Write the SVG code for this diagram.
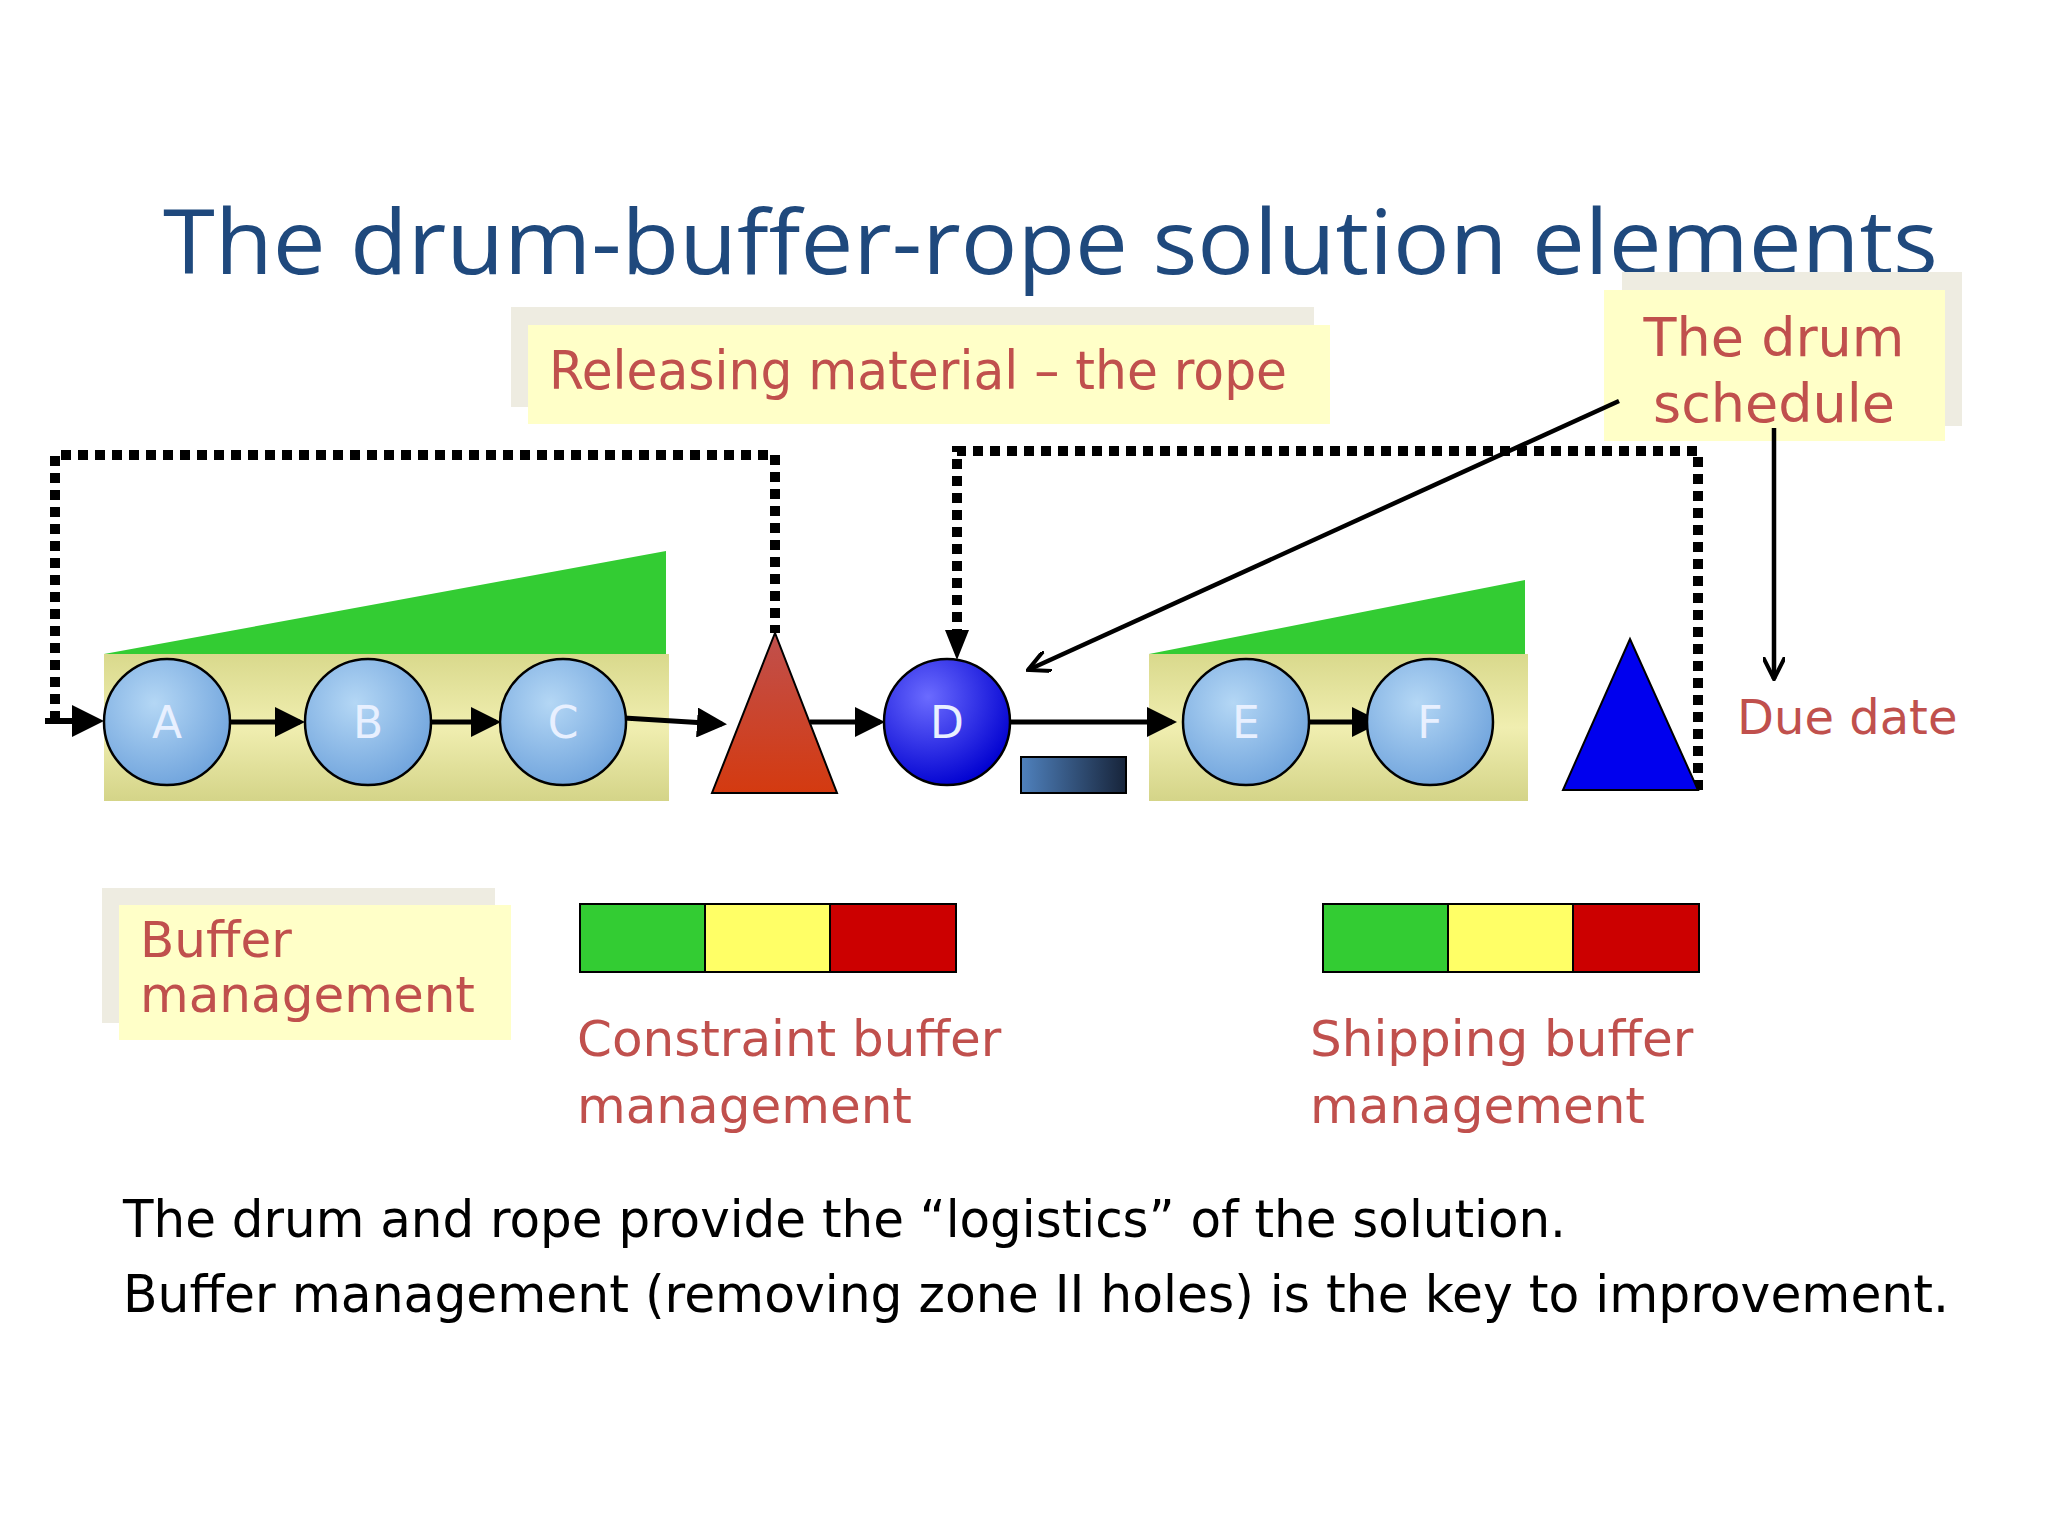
<svg xmlns="http://www.w3.org/2000/svg" width="2048" height="1536" viewBox="0 0 2048 1536">
<defs>
<style>
.lbl{font-family:"DejaVu Sans",Verdana,sans-serif;fill:#c0504d}
.body{font-family:"DejaVu Sans",Verdana,sans-serif;fill:#000}
.node{fill:url(#cg);stroke:#000;stroke-width:2.5}
.nt{font-family:"DejaVu Sans",sans-serif;font-size:44px;fill:#e8f0ff;text-anchor:middle}
.rope{fill:none;stroke:#000;stroke-width:10;stroke-dasharray:10 7}
.ar{stroke:#000;stroke-width:5;fill:none;marker-end:url(#ah)}
.thin{stroke:#000;stroke-width:4.5;fill:none;marker-end:url(#ah2)}
</style>
<radialGradient id="cg" cx="0.4" cy="0.35" r="0.7"><stop offset="0" stop-color="#b4d7f5"/><stop offset="1" stop-color="#6fa3dc"/></radialGradient>
<radialGradient id="dg" cx="0.35" cy="0.3" r="0.75"><stop offset="0" stop-color="#6b6bff"/><stop offset="1" stop-color="#0000d0"/></radialGradient>
<linearGradient id="kg" x1="0" y1="0" x2="0" y2="1"><stop offset="0" stop-color="#d9d98c"/><stop offset="0.5" stop-color="#f0eeb0"/><stop offset="1" stop-color="#d4d488"/></linearGradient>
<linearGradient id="tg" x1="0" y1="0" x2="0" y2="1"><stop offset="0" stop-color="#c0504d"/><stop offset="1" stop-color="#d43a10"/></linearGradient>
<linearGradient id="bg" x1="0" y1="0" x2="1" y2="0"><stop offset="0" stop-color="#4f81bd"/><stop offset="1" stop-color="#17243a"/></linearGradient>
<marker id="ah" markerWidth="6" markerHeight="6" refX="5" refY="3" orient="auto"><path d="M0,0 L6,3 L0,6 z" fill="#000"/></marker>
<marker id="ah2" markerWidth="24" markerHeight="22" refX="22" refY="11" orient="auto" markerUnits="userSpaceOnUse"><path d="M0,0 L22,11 L0,22" fill="none" stroke="#000" stroke-width="4"/></marker>
</defs>
<rect width="2048" height="1536" fill="#fff"/>
<text x="163" y="274" font-family="Open Sans,Liberation Sans,sans-serif" font-size="90" fill="#1f497d" textLength="1775" lengthAdjust="spacingAndGlyphs">The drum-buffer-rope solution elements</text>
<g id="rope-label"><rect x="511" y="307" width="803" height="100" fill="#eeece1"/><rect x="528" y="325" width="802" height="99" fill="#ffffc8"/><text class="lbl" x="549" y="389" font-size="54" textLength="738" lengthAdjust="spacingAndGlyphs">Releasing material – the rope</text></g>
<g id="drum-label"><rect x="1622" y="272" width="340" height="154" fill="#eeece1"/><rect x="1604" y="290" width="341" height="151" fill="#ffffc8"/><text class="lbl" x="1774" y="356" font-size="54" text-anchor="middle">The drum</text><text class="lbl" x="1774" y="422" font-size="54" text-anchor="middle">schedule</text></g>
<g id="buffer1"><rect x="104" y="654" width="565" height="147" fill="url(#kg)"/><polygon points="104,654 666,551 666,654" fill="#33cc33"/></g>
<g id="buffer2"><rect x="1149" y="654" width="379" height="147" fill="url(#kg)"/><polygon points="1149,654 1525,580 1525,654" fill="#33cc33"/></g>
<g id="connectors">
<polyline class="rope" points="55,721 55,455 775,455 775,633"/>
<polyline class="rope" points="1698,790 1698,451 957,451 957,640"/>
<path d="M945,630 L969,630 L957,660 z" fill="#000"/>
<line x1="45" y1="721" x2="80" y2="721" stroke="#000" stroke-width="6"/>
<path d="M72,705 L104,721 L72,737 z" fill="#000"/>
<line class="ar" x1="230" y1="722" x2="300" y2="722"/>
<line class="ar" x1="431" y1="722" x2="496" y2="722"/>
<line class="ar" x1="624" y1="718" x2="722" y2="724"/>
<line class="ar" x1="810" y1="722" x2="880" y2="722"/>
<line class="ar" x1="1010" y1="722" x2="1172" y2="722"/>
<line class="ar" x1="1310" y1="722" x2="1377" y2="722"/>
<line class="thin" x1="1619" y1="401" x2="1028" y2="670"/>
<line class="thin" x1="1774" y1="428" x2="1774" y2="679"/>
</g>
<g id="A"><circle class="node" cx="167" cy="722" r="63"/><text class="nt" x="167" y="738">A</text></g>
<g id="B"><circle class="node" cx="368" cy="722" r="63"/><text class="nt" x="368" y="738">B</text></g>
<g id="C"><circle class="node" cx="563" cy="722" r="63"/><text class="nt" x="563" y="738">C</text></g>
<g id="tri-red"><polygon points="775,633 712,793 837,793" fill="url(#tg)" stroke="#000" stroke-width="2"/></g>
<g id="D"><circle cx="947" cy="722" r="63" fill="url(#dg)" stroke="#000" stroke-width="2.5"/><text class="nt" x="947" y="738">D</text></g>
<rect id="drum-bar" x="1021" y="757" width="105" height="36" fill="url(#bg)" stroke="#000" stroke-width="2"/>
<g id="E"><circle class="node" cx="1246" cy="722" r="63"/><text class="nt" x="1246" y="738">E</text></g>
<g id="F"><circle class="node" cx="1430" cy="722" r="63"/><text class="nt" x="1430" y="738">F</text></g>
<g id="tri-blue"><polygon points="1630,639 1563,790 1698,790" fill="#0000ee" stroke="#000" stroke-width="2"/></g>
<text class="lbl" x="1737" y="734" font-size="48">Due date</text>
<g id="bm-label"><rect x="102" y="888" width="393" height="135" fill="#eeece1"/><rect x="119" y="905" width="392" height="135" fill="#ffffc8"/><text class="lbl" x="140" y="957" font-size="50">Buffer</text><text class="lbl" x="140" y="1012" font-size="50">management</text></g>
<g id="bar1" stroke="#000" stroke-width="2"><rect x="580" y="904" width="125" height="68" fill="#33cc33"/><rect x="705" y="904" width="125" height="68" fill="#ffff66"/><rect x="830" y="904" width="126" height="68" fill="#cc0000"/></g>
<g id="bar2" stroke="#000" stroke-width="2"><rect x="1323" y="904" width="125" height="68" fill="#33cc33"/><rect x="1448" y="904" width="125" height="68" fill="#ffff66"/><rect x="1573" y="904" width="126" height="68" fill="#cc0000"/></g>
<text class="lbl" x="577" y="1056" font-size="50">Constraint buffer</text><text class="lbl" x="577" y="1123" font-size="50">management</text>
<text class="lbl" x="1310" y="1056" font-size="50">Shipping buffer</text><text class="lbl" x="1310" y="1123" font-size="50">management</text>
<text class="body" x="123" y="1237" font-size="51" textLength="1443" lengthAdjust="spacingAndGlyphs">The drum and rope provide the “logistics” of the solution.</text>
<text class="body" x="123" y="1312" font-size="51" textLength="1826" lengthAdjust="spacingAndGlyphs">Buffer management (removing zone II holes) is the key to improvement.</text>
</svg>
